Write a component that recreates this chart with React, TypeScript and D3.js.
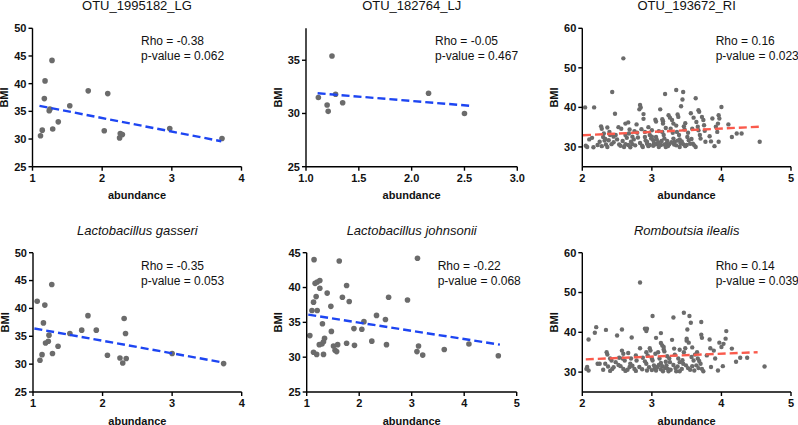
import React from "react";
import * as d3 from "d3";

type P = [number, number];

// ---------- Data ----------
const titles = ["OTU_1995182_LG", "OTU_182764_LJ", "OTU_193672_RI", "Lactobacillus gasseri", "Lactobacillus johnsonii", "Romboutsia ilealis"];
const rhoLabels = ["Rho = -0.38", "Rho = -0.05", "Rho = 0.16", "Rho = -0.35", "Rho = -0.22", "Rho = 0.14"];
const pLabels = ["p-value = 0.062", "p-value = 0.467", "p-value = 0.023", "p-value = 0.053", "p-value = 0.068", "p-value = 0.039"];

const lgOtuPoints: P[] = [
  [1.115, 30.6], [1.14, 31.6], [1.17, 37.3], [1.18, 40.5], [1.24, 35.1], [1.25, 35.4], [1.28, 44.2], [1.29, 31.8],
  [1.37, 33.1], [1.535, 36.0], [1.8, 38.7], [2.03, 31.5], [2.08, 38.2], [2.25, 30.2], [2.26, 31.0], [2.29, 30.8],
  [2.97, 31.9], [3.72, 30.1],
];
const lgOtuFit: P[] = [[1.1, 36.0], [3.71, 29.6]];

const ljOtuPoints: P[] = [
  [1.117, 31.5], [1.2, 30.8], [1.21, 30.2], [1.246, 35.4], [1.28, 31.8], [1.347, 31.0], [2.16, 31.9], [2.5, 30.0],
];
const ljOtuFit: P[] = [[1.11, 31.9], [2.58, 30.7]];

const riOtuPoints: P[] = [
  [2.04, 40.0], [2.17, 40.0], [2.07, 30.0], [2.05, 30.3], [2.1, 31.9], [2.14, 32.3], [2.16, 29.9],
  [2.27, 35.2], [2.28, 34.6], [2.31, 33.4], [2.3, 32.5], [2.32, 31.6], [2.34, 30.6],
  [2.36, 34.9], [2.39, 33.8], [2.4, 33.0], [2.38, 31.7], [2.42, 30.7], [2.36, 30.0],
  [2.43, 43.9], [2.47, 38.4], [2.48, 33.0], [2.5, 31.9], [2.53, 30.6], [2.56, 34.6], [2.59, 52.4],
  [2.6, 30.0], [2.62, 30.7], [2.64, 32.3], [2.62, 35.9], [2.67, 33.4], [2.69, 29.9], [2.72, 30.7], [2.74, 31.9],
  [2.78, 35.7], [2.79, 33.6], [2.8, 32.4], [2.83, 40.6], [2.84, 40.0], [2.82, 39.5], [2.88, 38.3], [2.88, 37.1],
  [2.83, 31.0], [2.86, 30.3], [2.87, 30.0], [2.9, 33.8], [2.9, 32.5], [2.91, 31.6], [2.93, 30.8], [2.95, 30.2],
  [2.97, 33.0], [2.99, 32.1], [3.02, 31.7], [3.03, 31.0], [3.02, 30.3], [3.06, 32.5], [3.07, 31.9], [3.08, 30.7], [3.1, 30.0],
  [3.12, 39.5], [3.05, 36.9], [3.06, 36.4], [3.15, 37.0], [3.16, 36.5], [3.16, 35.9], [3.15, 33.8], [3.17, 33.0], [3.18, 32.1],
  [3.19, 43.4], [3.21, 30.8], [3.23, 30.2], [3.2, 30.0], [3.24, 38.0], [3.26, 37.4], [3.27, 34.6], [3.3, 33.6], [3.29, 36.8], [3.31, 35.9],
  [3.31, 32.1], [3.33, 31.3], [3.32, 30.6], [3.35, 44.4], [3.37, 38.2], [3.38, 37.6], [3.36, 33.8], [3.39, 33.0], [3.4, 31.9], [3.41, 31.0], [3.4, 30.0],
  [3.42, 40.3], [3.45, 43.9], [3.44, 42.0], [3.46, 35.2], [3.47, 34.4], [3.45, 30.7], [3.48, 30.2], [3.51, 32.5], [3.53, 31.7],
  [3.56, 38.5], [3.58, 34.6], [3.59, 30.8], [3.61, 30.4], [3.63, 30.0], [3.63, 42.3], [3.66, 35.1], [3.67, 34.2], [3.67, 39.3], [3.68, 38.9],
  [3.69, 33.0], [3.7, 32.1], [3.72, 37.6], [3.74, 36.8], [3.75, 35.5], [3.76, 34.1], [3.77, 31.3],
  [3.83, 32.7], [3.85, 31.4], [3.87, 37.2], [3.9, 30.2], [3.92, 35.1], [3.94, 33.8], [3.95, 35.9], [3.96, 38.0], [3.97, 37.2], [3.96, 31.3],
  [4.0, 40.1], [4.1, 35.7], [4.15, 32.5], [4.22, 33.4], [4.29, 33.4], [4.55, 31.3],
  [2.45, 31.2], [2.55, 30.3], [2.58, 31.5], [2.66, 30.5], [2.7, 31.3], [2.76, 30.4],
  [2.93, 31.3], [2.97, 30.5], [3.0, 32.6], [3.04, 30.6], [3.09, 31.2], [3.13, 30.5], [3.14, 31.5], [3.18, 30.6],
  [3.22, 31.5], [3.25, 30.7], [3.28, 31.2], [3.35, 30.4], [3.37, 31.6], [3.43, 31.4], [3.5, 30.5], [3.55, 30.8], [3.57, 32.0],
  [2.22, 30.5], [2.25, 31.3], [2.33, 32.0], [2.28, 30.2], [2.45, 32.6],
  [2.68, 34.4], [2.72, 32.6], [2.85, 34.5], [2.95, 35.0], [3.0, 34.2], [3.1, 34.0], [3.2, 34.8], [3.35, 35.4],
  [3.48, 36.0], [3.52, 33.6], [3.6, 37.4], [3.64, 36.3], [2.52, 35.0], [2.62, 33.0], [2.66, 36.2], [2.75, 34.0],
];
const riOtuFit: P[] = [[2.01, 32.96], [4.54, 35.1]];

const lgPoints: P[] = [
  [1.06, 41.3], [1.1, 30.7], [1.13, 31.7], [1.15, 37.4], [1.17, 40.6], [1.18, 33.8], [1.22, 34.1], [1.23, 35.2],
  [1.27, 44.3], [1.28, 31.9], [1.36, 33.2], [1.53, 35.5], [1.7, 36.1], [1.79, 38.7], [1.91, 36.1], [2.07, 31.6],
  [2.25, 31.1], [2.29, 30.2], [2.31, 38.2], [2.33, 35.5], [2.34, 31.0], [3.0, 31.9], [3.74, 30.1],
];
const lgFit: P[] = [[1.02, 36.4], [3.73, 30.3]];

const ljPoints: P[] = [
  [1.06, 33.1], [1.1, 36.7], [1.13, 30.7], [1.14, 44.0], [1.13, 37.9], [1.16, 40.6], [1.18, 38.7], [1.19, 30.4],
  [1.2, 36.7], [1.2, 40.8], [1.25, 41.0], [1.25, 39.9], [1.24, 31.8], [1.29, 31.9], [1.3, 34.8], [1.32, 30.4],
  [1.34, 32.7], [1.32, 32.2], [1.39, 39.2], [1.46, 37.3], [1.47, 33.7], [1.51, 31.6], [1.54, 31.0], [1.57, 30.8],
  [1.59, 31.8], [1.62, 43.8], [1.68, 38.6], [1.76, 40.3], [1.76, 32.0], [1.81, 38.0], [1.9, 34.1], [1.91, 31.7],
  [2.05, 34.0], [2.09, 35.1], [2.24, 32.3], [2.33, 36.0], [2.5, 35.4], [2.52, 31.8], [2.56, 38.6], [2.92, 38.2],
  [3.11, 44.2], [3.1, 30.8], [3.13, 31.6], [3.21, 30.3], [3.62, 31.1], [4.09, 31.9], [4.65, 30.2],
];
const ljFit: P[] = [[1.03, 36.1], [4.68, 31.8]];

const riPoints: P[] = [
  [2.07, 31.3], [2.09, 30.4], [2.06, 30.8], [2.09, 38.2], [2.18, 39.9], [2.2, 41.3], [2.22, 32.1], [2.25, 32.1],
  [2.34, 40.6], [2.35, 35.0], [2.36, 34.4], [2.33, 32.1], [2.37, 31.4], [2.4, 33.4], [2.42, 32.9], [2.4, 30.3], [2.43, 30.8],
  [2.5, 39.2], [2.48, 32.5], [2.52, 31.8], [2.57, 40.7], [2.57, 35.4], [2.59, 34.6], [2.58, 33.4], [2.61, 32.9],
  [2.59, 30.8], [2.62, 30.3], [2.68, 31.3], [2.69, 32.1], [2.7, 33.4], [2.71, 38.7], [2.75, 30.8], [2.77, 30.3],
  [2.78, 32.9], [2.77, 34.2], [2.83, 36.0], [2.83, 52.5], [2.82, 31.3], [2.9, 40.9], [2.92, 40.3], [2.93, 40.9],
  [2.92, 35.0], [2.94, 34.2], [2.9, 32.7], [2.92, 32.1], [2.93, 30.4], [3.01, 44.1], [2.97, 36.0], [2.98, 35.4],
  [3.0, 33.4], [3.01, 32.9], [3.03, 31.7], [3.04, 31.0], [3.06, 30.4], [3.08, 31.3], [3.06, 38.6], [3.09, 35.0],
  [3.13, 37.3], [3.13, 39.8], [3.11, 33.4], [3.13, 32.3], [3.15, 31.5], [3.13, 30.7], [3.16, 30.2], [3.19, 31.0],
  [3.15, 36.7], [3.17, 36.3], [3.18, 35.2], [3.17, 35.7], [3.21, 31.7], [3.23, 30.8], [3.24, 30.2], [3.25, 33.4],
  [3.26, 32.5], [3.29, 38.1], [3.31, 43.7], [3.32, 35.9], [3.33, 34.4], [3.31, 31.8], [3.34, 31.0], [3.35, 30.2],
  [3.38, 33.4], [3.4, 32.5], [3.43, 30.8], [3.4, 30.2], [3.46, 44.9], [3.5, 38.4], [3.5, 37.9], [3.51, 40.7],
  [3.54, 44.1], [3.53, 37.4], [3.48, 36.0], [3.46, 35.0], [3.45, 32.1], [3.49, 31.7], [3.52, 31.0], [3.56, 42.4],
  [3.57, 33.8], [3.6, 32.9], [3.61, 30.4], [3.62, 34.4], [3.65, 35.0], [3.64, 31.7], [3.67, 31.0], [3.71, 42.6],
  [3.71, 39.4], [3.72, 38.6], [3.7, 32.1], [3.72, 30.8], [3.74, 30.2], [3.79, 34.2], [3.83, 38.2], [3.84, 36.0],
  [3.85, 31.3], [3.89, 35.4], [3.91, 33.4], [3.95, 30.4], [3.97, 37.4], [4.0, 36.3], [4.03, 37.1], [4.02, 31.5],
  [4.06, 38.4], [4.07, 40.3], [4.15, 35.9], [4.21, 32.6], [4.27, 33.6], [4.37, 33.6], [4.62, 31.4],
  [2.45, 31.2], [2.55, 31.5], [2.65, 30.6], [2.72, 31.6], [2.86, 30.7], [2.96, 31.2], [3.0, 30.5], [3.1, 31.8],
  [3.2, 32.6], [3.27, 30.6], [3.37, 31.4], [3.44, 33.0], [3.55, 30.6], [3.58, 31.5], [3.68, 32.8], [2.3, 30.6],
  [2.53, 33.6], [2.66, 34.8], [2.87, 33.6], [3.05, 34.6], [3.22, 34.0], [3.4, 35.6], [3.58, 36.2], [3.66, 33.4],
];
const riFit: P[] = [[2.05, 33.2], [4.52, 35.0]];

const xTicks1 = [1, 2, 3, 4];
const xTicks2 = [1.0, 1.5, 2.0, 2.5, 3.0];
const xTicks3 = [2, 3, 4, 5];
const xTicks5 = [1, 2, 3, 4, 5];
const yTicks1 = [25, 30, 35, 40, 45, 50];
const yTicks2 = [25, 30, 35];
const yTicks3 = [30, 40, 50, 60];
const yTicks5 = [25, 30, 35, 40, 45];

// ---------- Rendering ----------
const FONT = "Arial, 'Liberation Sans', Helvetica, sans-serif";
const GRAY = "#6b6b6b";
const BLUE = "#1d45f2";
const RED = "#fa5a4c";

type PanelProps = {
  title: string;
  italic: boolean;
  points: P[];
  fit: P[];
  xDomain: [number, number];
  yDomain: [number, number];
  xTicks: number[];
  yTicks: number[];
  xFmt: (v: number) => string;
  left: number;
  right: number;
  top: number;
  bottom: number;
  color: string;
  r: number;
  rho: string;
  pval: string;
  statX: number;
};

function Panel(p: PanelProps) {
  const x = d3.scaleLinear().domain(p.xDomain).range([p.left, p.right]);
  const y = d3.scaleLinear().domain(p.yDomain).range([p.bottom, p.top]);
  const line = d3.line<P>().x((d) => x(d[0])).y((d) => y(d[1]));
  const cx = (p.left + p.right) / 2;
  const cy = (p.top + p.bottom) / 2;
  return (
    <g fontFamily={FONT}>
      <text x={cx} y={p.top - 18} textAnchor="middle" fontSize={13} fontStyle={p.italic ? "italic" : "normal"} fill="#111">
        {p.title}
      </text>
      {p.points.map((d, i) => (
        <circle key={i} cx={x(d[0])} cy={y(d[1])} r={p.r} fill={GRAY} />
      ))}
      <path d={line(p.fit) || ""} stroke={p.color} strokeWidth={2.4} strokeDasharray="8,4" fill="none" />
      {/* y axis */}
      <line x1={p.left} x2={p.left} y1={p.top} y2={p.bottom} stroke="#000" strokeWidth={1.4} />
      {p.yTicks.map((t) => (
        <g key={"y" + t}>
          <line x1={p.left - 4} x2={p.left} y1={y(t)} y2={y(t)} stroke="#000" strokeWidth={1.4} />
          <text x={p.left - 6} y={y(t)} dy="0.35em" textAnchor="end" fontSize={11} fontWeight="bold" fill="#111">
            {t}
          </text>
        </g>
      ))}
      {/* x axis */}
      <line x1={p.left} x2={p.right} y1={p.bottom} y2={p.bottom} stroke="#000" strokeWidth={1.4} />
      {p.xTicks.map((t) => (
        <g key={"x" + t}>
          <line x1={x(t)} x2={x(t)} y1={p.bottom} y2={p.bottom + 4} stroke="#000" strokeWidth={1.4} />
          <text x={x(t)} y={p.bottom + 15} textAnchor="middle" fontSize={11} fontWeight="bold" fill="#111">
            {p.xFmt(t)}
          </text>
        </g>
      ))}
      <text x={cx} y={p.bottom + 32.5} textAnchor="middle" fontSize={11} fontWeight="bold" fill="#111">
        abundance
      </text>
      <text transform={`translate(${p.left - 24.5},${cy}) rotate(-90)`} textAnchor="middle" fontSize={11} fontWeight="bold" fill="#111">
        BMI
      </text>
      <text x={p.statX} y={p.top + 17} fontSize={12} fill="#111">{p.rho}</text>
      <text x={p.statX} y={p.top + 32} fontSize={12} fill="#111">{p.pval}</text>
    </g>
  );
}

export default function App() {
  const intFmt = (v: number) => d3.format("d")(v);
  const f1 = (v: number) => d3.format(".1f")(v);
  const T1 = 28.3, B1 = 166.7, T2 = 252.7, B2 = 392;
  return (
    <svg width={798} height={425} style={{ position: "absolute", left: 0, top: 0, background: "#fff" }}>
      <rect width={798} height={425} fill="#fff" />
      <Panel title={titles[0]} italic={false} points={lgOtuPoints} fit={lgOtuFit} xDomain={[1, 4]} yDomain={[25, 50]}
        xTicks={xTicks1} yTicks={yTicks1} xFmt={intFmt} left={32.5} right={241.5} top={T1} bottom={B1}
        color={BLUE} r={2.8} rho={rhoLabels[0]} pval={pLabels[0]} statX={141} />
      <Panel title={titles[1]} italic={false} points={ljOtuPoints} fit={ljOtuFit} xDomain={[1, 3]} yDomain={[25, 38]}
        xTicks={xTicks2} yTicks={yTicks2} xFmt={f1} left={306} right={517.3} top={T1} bottom={B1}
        color={BLUE} r={2.8} rho={rhoLabels[1]} pval={pLabels[1]} statX={435} />
      <Panel title={titles[2]} italic={false} points={riOtuPoints} fit={riOtuFit} xDomain={[2, 5]} yDomain={[25, 60]}
        xTicks={xTicks3} yTicks={yTicks3} xFmt={intFmt} left={582.3} right={791} top={T1} bottom={B1}
        color={RED} r={2.2} rho={rhoLabels[2]} pval={pLabels[2]} statX={715.7} />
      <Panel title={titles[3]} italic={true} points={lgPoints} fit={lgFit} xDomain={[1, 4]} yDomain={[25, 50]}
        xTicks={xTicks1} yTicks={yTicks1} xFmt={intFmt} left={33} right={241.7} top={T2} bottom={B2}
        color={BLUE} r={2.8} rho={rhoLabels[3]} pval={pLabels[3]} statX={141} />
      <Panel title={titles[4]} italic={true} points={ljPoints} fit={ljFit} xDomain={[1, 5]} yDomain={[25, 45]}
        xTicks={xTicks5} yTicks={yTicks5} xFmt={intFmt} left={306.7} right={516.7} top={T2} bottom={B2}
        color={BLUE} r={2.8} rho={rhoLabels[4]} pval={pLabels[4]} statX={437.7} />
      <Panel title={titles[5]} italic={true} points={riPoints} fit={riFit} xDomain={[2, 5]} yDomain={[25, 60]}
        xTicks={xTicks3} yTicks={yTicks3} xFmt={intFmt} left={582.3} right={791} top={T2} bottom={B2}
        color={RED} r={2.2} rho={rhoLabels[5]} pval={pLabels[5]} statX={715.7} />
    </svg>
  );
}
